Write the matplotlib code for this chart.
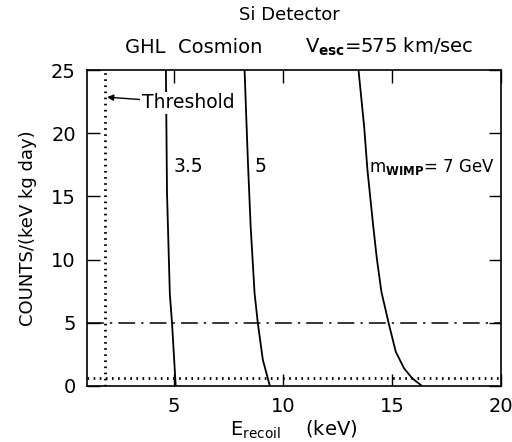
import numpy as np
from matplotlib import pyplot as plt

plt.rcParams['font.family'] = ['DejaVu Sans']
plt.rcParams['mathtext.fontset'] = 'dejavusans'
plt.rcParams['mathtext.default'] = 'regular'

# 读图得到的曲线 (E_recoil keV, counts)
e_35 = [4.62, 4.67, 4.80, 4.90, 5.07]
c_35 = [25, 15.3, 7.3, 5.0, 0]
e_5 = [8.23, 8.38, 8.51, 8.69, 8.84, 9.07, 9.38]
c_5 = [25, 17.9, 12.6, 7.33, 4.96, 2.06, 0.08]
e_7 = [13.46, 13.72, 13.87, 14.13, 14.30, 14.51, 14.84, 15.17, 15.55, 15.93, 16.32]
c_7 = [25, 20.5, 17.1, 12.74, 10.1, 7.46, 5.0, 2.71, 1.4, 0.6, 0.08]

threshold = 1.82
bg_level = 0.6
limit = 5

xticks = [5, 10, 15, 20]
yticks = [0, 5, 10, 15, 20, 25]

fig = plt.figure(figsize=(5.12, 4.42), dpi=100)
ax = fig.add_axes([0.170, 0.1267, 0.8085, 0.7149])

ax.plot(e_35, c_35, color='black', lw=1.3)
ax.plot(e_5, c_5, color='black', lw=1.3)
ax.plot(e_7, c_7, color='black', lw=1.3)

ax.axvline(threshold, color='black', lw=2, linestyle=(0, (0.6, 1.6)))
ax.axhline(bg_level, color='black', lw=2, linestyle=(0, (0.6, 1.6)))
ax.axhline(limit, color='black', lw=1.1, linestyle=(0, (11, 4, 1.5, 4)))

ax.set_xlim(1, 20)
ax.set_ylim(0, 25)
ax.set_xticks(xticks)
ax.set_yticks(yticks)
ax.tick_params(direction='in', length=9, width=1, top=True, right=True,
               labelsize=14, pad=8)
for s in ax.spines.values():
    s.set_linewidth(1.2)

ax.annotate('Threshold', xy=(1.92, 22.85), xytext=(3.5, 22.4),
            fontsize=13.5, va='center',
            bbox=dict(facecolor='white', edgecolor='none', pad=1),
            arrowprops=dict(arrowstyle='-|>', color='black', lw=1,
                            mutation_scale=9, shrinkA=0, shrinkB=0))

ax.text(4.95, 17.4, '3.5', fontsize=13.5, va='center')
ax.text(8.7, 17.4, '5', fontsize=13.5, va='center')
ax.text(13.95, 17.3, r'm$_{\mathbf{WIMP}}$= 7 GeV', fontsize=12, va='center')

ax.set_ylabel('COUNTS/(keV kg day)', fontsize=13, labelpad=10)
ax.set_xlabel(r'E$_{\mathrm{recoil}}$    (keV)', fontsize=14, labelpad=2)

fig.text(0.565, 0.965, 'Si Detector', fontsize=13, ha='center', va='center')
fig.text(0.378, 0.893, 'GHL  Cosmion', fontsize=14, ha='center', va='center')
fig.text(0.595, 0.893, r'V$_{\mathbf{esc}}$=575 km/sec', fontsize=14,
         ha='left', va='center')

plt.savefig('out.png', dpi=100)
